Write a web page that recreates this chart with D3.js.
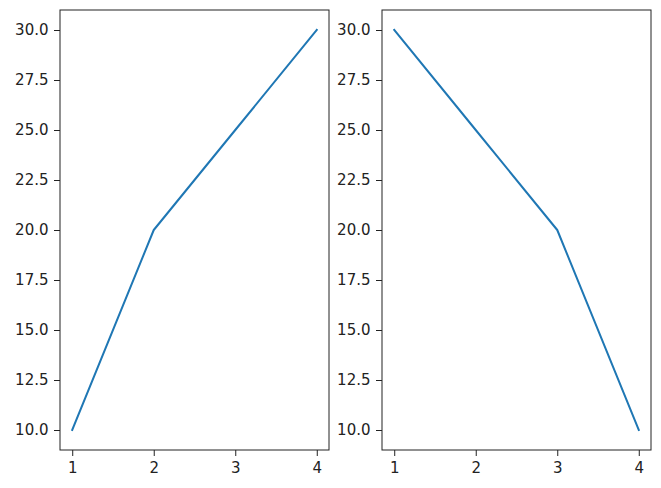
<!DOCTYPE html>
<html>
<head>
<meta charset="utf-8">
<script src="https://cdn.jsdelivr.net/npm/d3@7.9.0/dist/d3.min.js"></script>
<style>
  body { margin: 0; background: #fff; }
  text { font-family: "DejaVu Sans", sans-serif; }
</style>
</head>
<body>
<div id="chart"></div>
<script>
const xValues = [1, 2, 3, 4];
const leftValues = [10, 20, 25, 30];
const rightValues = [30, 25, 20, 10];
const xTicks = [1, 2, 3, 4];
const yTicks = [10, 12.5, 15, 17.5, 20, 22.5, 25, 27.5, 30];

const width = 661, height = 488;
const svg = d3.select('#chart').append('svg')
  .attr('width', width).attr('height', height);

const panels = [
  { left: 60, right: 329, values: leftValues },
  { left: 382, right: 651, values: rightValues },
];
const plotTop = 10, plotBottom = 450;

panels.forEach(p => {
  const xScale = d3.scaleLinear().domain([0.85, 4.15]).range([p.left, p.right]);
  const yScale = d3.scaleLinear().domain([9, 31]).range([plotBottom, plotTop]);

  const g = svg.append('g');

  const xAxis = d3.axisBottom(xScale).tickValues(xTicks).tickFormat(d3.format('d'))
    .tickSizeInner(6).tickSizeOuter(0).tickPadding(6);
  const yAxis = d3.axisLeft(yScale).tickValues(yTicks).tickFormat(d3.format('.1f'))
    .tickSizeInner(6).tickSizeOuter(0).tickPadding(5.5);

  g.append('g').attr('transform', `translate(0,${plotBottom})`).call(xAxis)
    .call(a => a.select('.domain').remove())
    .call(a => a.selectAll('text').attr('font-size', 15).attr('fill', '#222')
      .attr('font-family', '"DejaVu Sans", sans-serif'))
    .call(a => a.selectAll('line').attr('stroke', '#222').attr('stroke-width', 1));

  g.append('g').attr('transform', `translate(${p.left},0)`).call(yAxis)
    .call(a => a.select('.domain').remove())
    .call(a => a.selectAll('text').attr('font-size', 15).attr('fill', '#222')
      .attr('font-family', '"DejaVu Sans", sans-serif'))
    .call(a => a.selectAll('line').attr('stroke', '#222').attr('stroke-width', 1));

  const line = d3.line().x((d, i) => xScale(xValues[i])).y(d => yScale(d));
  g.append('path').datum(p.values)
    .attr('d', line)
    .attr('fill', 'none')
    .attr('stroke', '#1f77b4')
    .attr('stroke-width', 2)
    .attr('stroke-linecap', 'square')
    .attr('stroke-linejoin', 'round');

  g.append('rect')
    .attr('x', p.left).attr('y', plotTop)
    .attr('width', p.right - p.left).attr('height', plotBottom - plotTop)
    .attr('fill', 'none').attr('stroke', '#222').attr('stroke-width', 1);
});
</script>
</body>
</html>
